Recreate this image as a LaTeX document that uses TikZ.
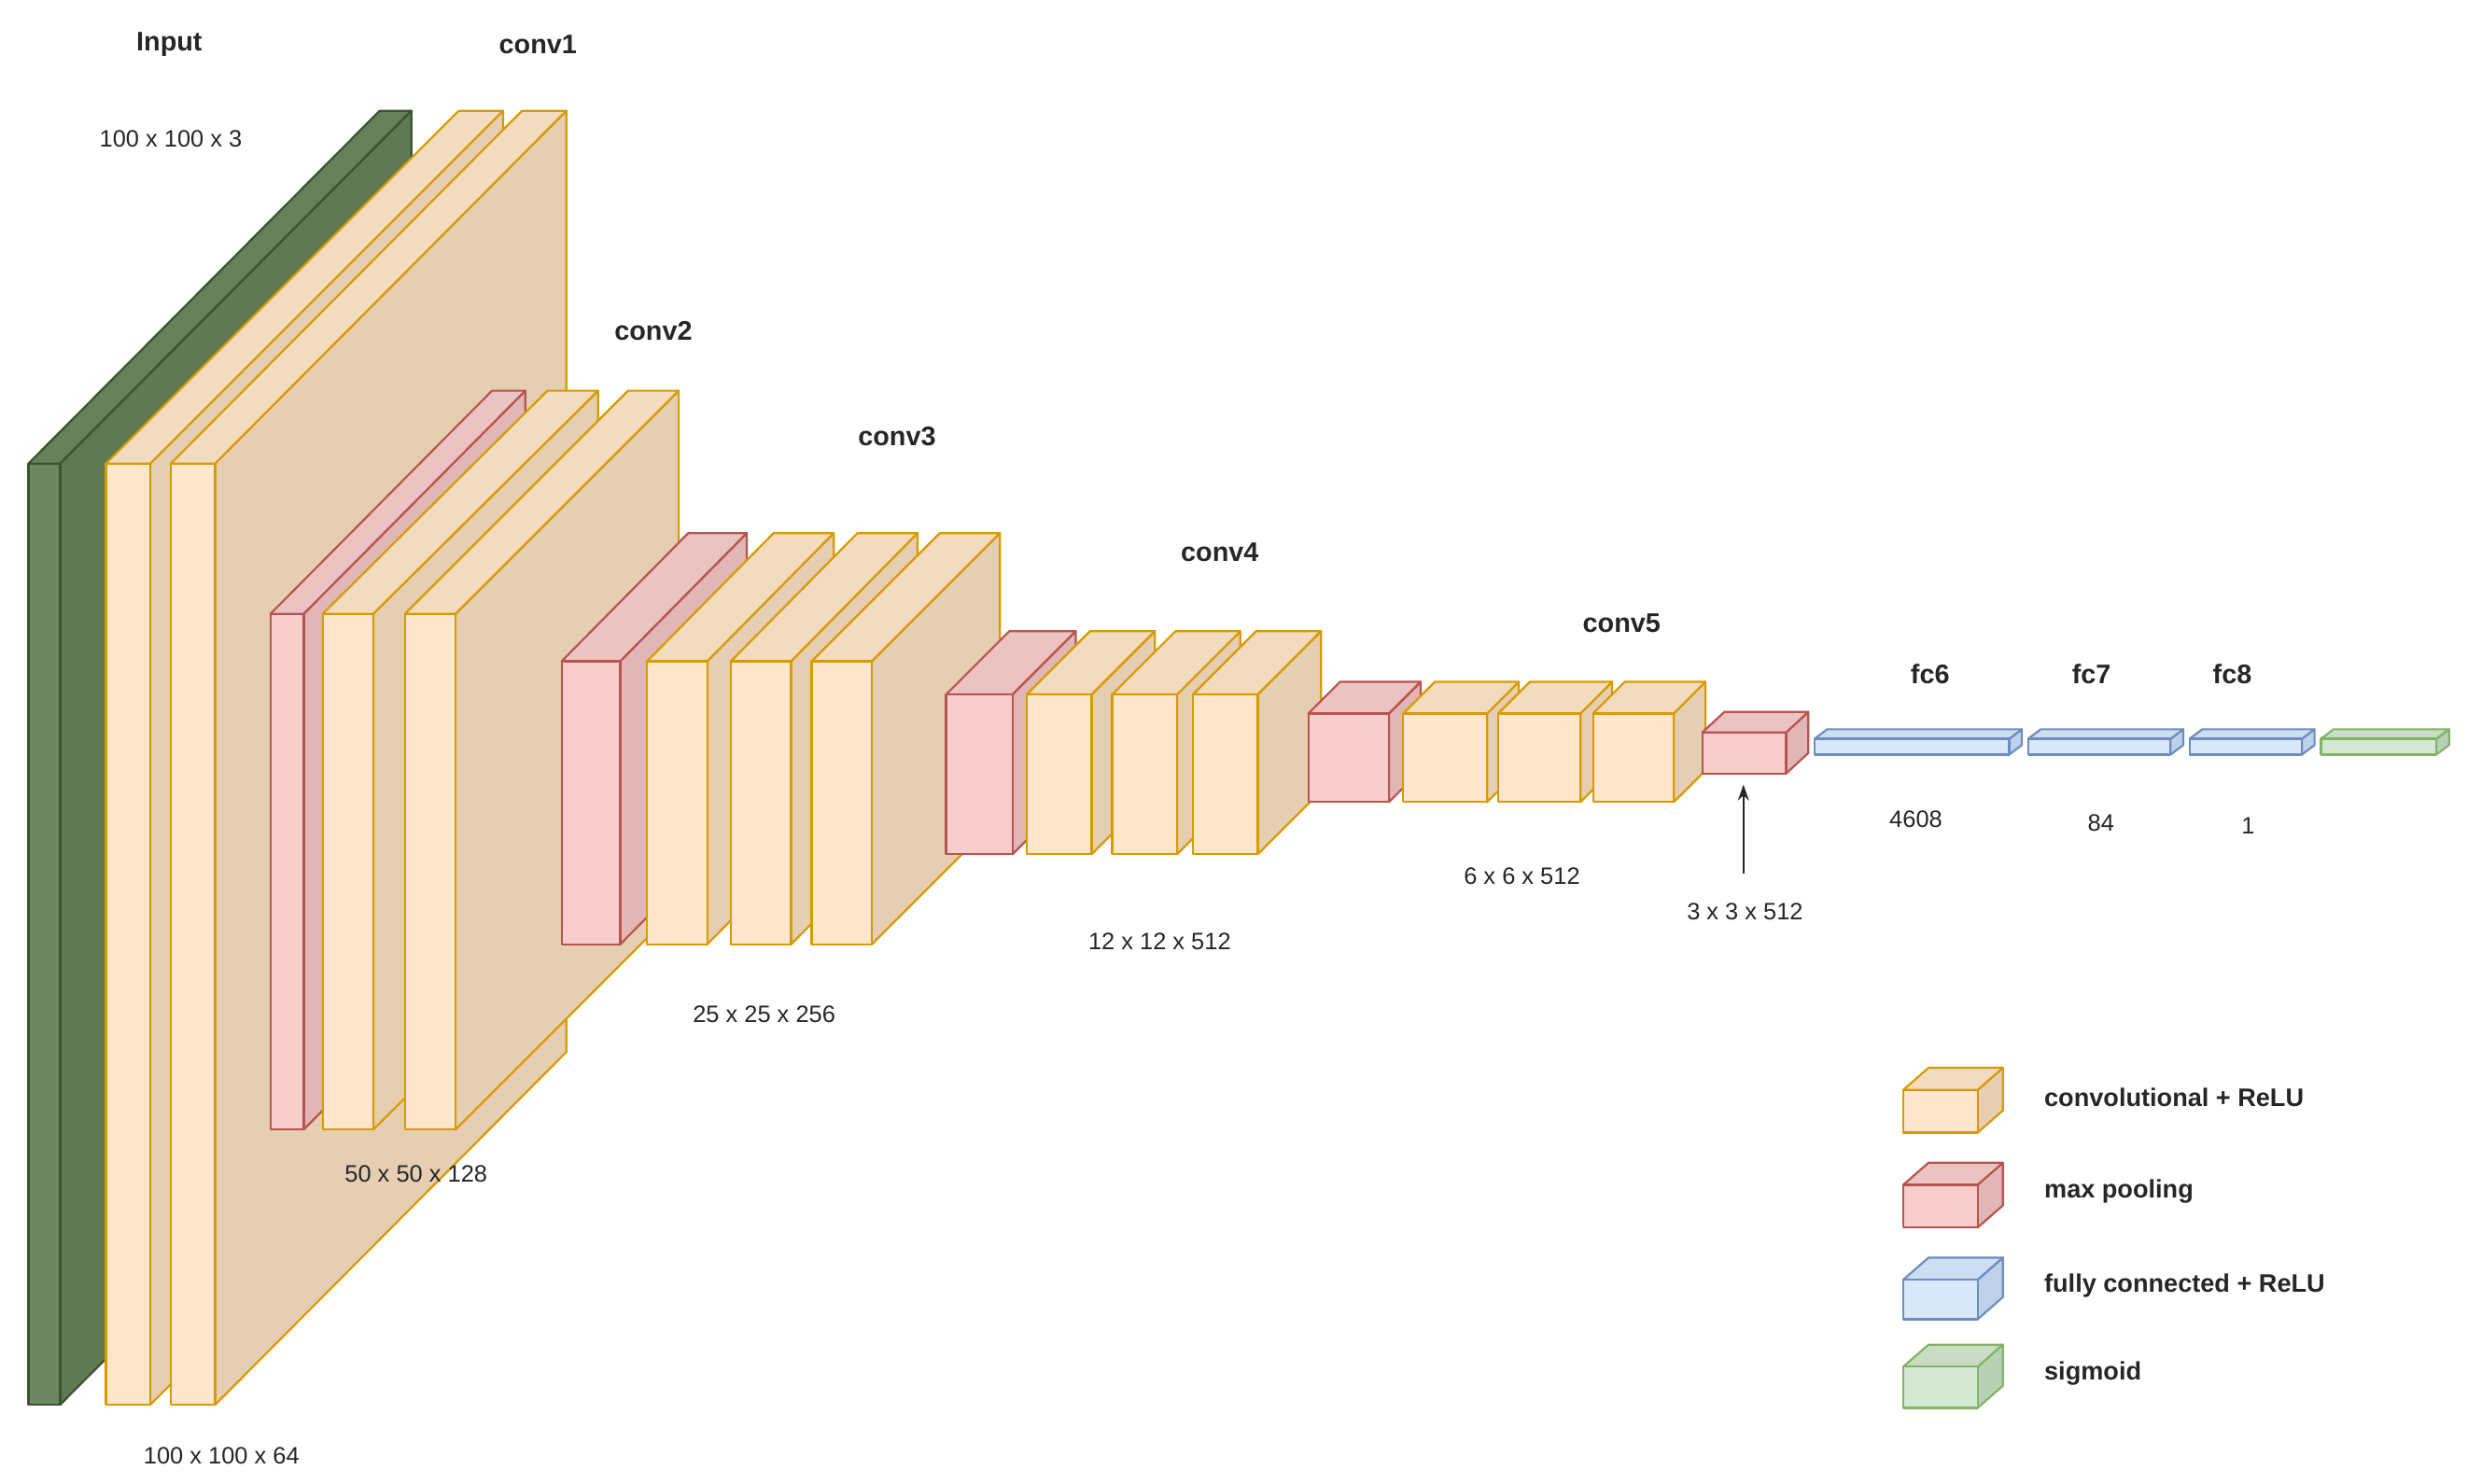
\documentclass[tikz,border=0pt]{standalone}
\usepackage{fontspec}
\setmainfont{Liberation Sans}
\usetikzlibrary{arrows.meta}
\definecolor{cF}{HTML}{FFE6CC}\definecolor{cT}{HTML}{F2DBBF}\definecolor{cS}{HTML}{E6CEB3}\definecolor{cD}{HTML}{D79B00}
\definecolor{pF}{HTML}{F8CECC}\definecolor{pT}{HTML}{EBC3C3}\definecolor{pS}{HTML}{E0B6B6}\definecolor{pD}{HTML}{B85450}
\definecolor{bF}{HTML}{DAE8FC}\definecolor{bT}{HTML}{CFDDF2}\definecolor{bS}{HTML}{BFD0EA}\definecolor{bD}{HTML}{6C8EBF}
\definecolor{gF}{HTML}{D5E8D4}\definecolor{gT}{HTML}{C8DCC6}\definecolor{gS}{HTML}{B8D1B5}\definecolor{gD}{HTML}{82B366}
\definecolor{iF}{HTML}{6D8764}\definecolor{iT}{HTML}{66805C}\definecolor{iS}{HTML}{5F7955}\definecolor{iD}{HTML}{3A5431}
\newcommand\cuboid[7]{%
\draw[#7side] (#3,#2) -- ++(#5,-#6) -- ++(0,#4-#2) -- (#3,#4) -- cycle;
\draw[#7top] (#1,#2) -- ++(#5,-#6) -- ++(#3-#1,0) -- (#3,#2) -- cycle;
\draw[#7front] (#1,#2) rectangle (#3,#4);}
\tikzset{
 cfront/.style={fill=cF,draw=cD,line width=1.3pt,line join=round},
 cside/.style={fill=cS,draw=cD,line width=1.3pt,line join=round},
 ctop/.style={fill=cT,draw=cD,line width=1.3pt,line join=round},
 pfront/.style={fill=pF,draw=pD,line width=1.3pt,line join=round},
 pside/.style={fill=pS,draw=pD,line width=1.3pt,line join=round},
 ptop/.style={fill=pT,draw=pD,line width=1.3pt,line join=round},
 bfront/.style={fill=bF,draw=bD,line width=1.3pt,line join=round},
 bside/.style={fill=bS,draw=bD,line width=1.3pt,line join=round},
 btop/.style={fill=bT,draw=bD,line width=1.3pt,line join=round},
 gfront/.style={fill=gF,draw=gD,line width=1.3pt,line join=round},
 gside/.style={fill=gS,draw=gD,line width=1.3pt,line join=round},
 gtop/.style={fill=gT,draw=gD,line width=1.3pt,line join=round},
 ifront/.style={fill=iF,draw=iD,line width=1.3pt,line join=round},
 iside/.style={fill=iS,draw=iD,line width=1.3pt,line join=round},
 itop/.style={fill=iT,draw=iD,line width=1.3pt,line join=round},
 ttl/.style={font=\fontsize{17}{20}\selectfont\bfseries,text=black!85,inner sep=0pt},
 dim/.style={font=\fontsize{15}{18}\selectfont,text=black!85,inner sep=0pt},
 leg/.style={font=\fontsize{16}{19}\selectfont\bfseries,text=black!85,inner sep=0pt,anchor=west},
}
\begin{document}
\begin{tikzpicture}[x=1pt,y=-1pt]
\useasboundingbox (0,0) rectangle (1560,938);
% input
\cuboid{18}{293}{38}{888}{222}{223}{i}
% conv1
\cuboid{67}{293}{95}{888}{223}{223}{c}
\cuboid{108}{293}{136}{888}{222}{223}{c}
% conv2
\cuboid{171}{388}{192}{714}{140}{141}{p}
\cuboid{204}{388}{236}{714}{142}{141}{c}
\cuboid{256}{388}{288}{714}{141}{141}{c}
% conv3
\cuboid{355}{418}{392}{597}{80}{81}{p}
\cuboid{409}{418}{447}{597}{80}{81}{c}
\cuboid{462}{418}{500}{597}{80}{81}{c}
\cuboid{513}{418}{551}{597}{81}{81}{c}
% conv4
\cuboid{598}{439}{640}{540}{40}{40}{p}
\cuboid{649}{439}{690}{540}{40}{40}{c}
\cuboid{703}{439}{744}{540}{40}{40}{c}
\cuboid{754}{439}{795}{540}{40}{40}{c}
% conv5
\cuboid{827}{451}{878}{507}{20}{20}{p}
\cuboid{887}{451}{940}{507}{20}{20}{c}
\cuboid{947}{451}{999}{507}{20}{20}{c}
\cuboid{1007}{451}{1058}{507}{20}{20}{c}
% pool5
\cuboid{1076}{463}{1129}{489}{14}{13}{p}
% fc
\cuboid{1147}{467}{1270}{477}{8}{6}{b}
\cuboid{1282}{467}{1372}{477}{8}{6}{b}
\cuboid{1384}{467}{1455}{477}{8}{6}{b}
\cuboid{1467}{467}{1540}{477}{8}{6}{g}
% labels
\node[ttl] (tin) at (107,28) {Input};
\node[ttl] (tc1) at (340,28) {conv1};
\node[ttl] (tc2) at (413,209) {conv2};
\node[ttl] (tc3) at (567,276) {conv3};
\node[ttl] (tc4) at (771,349) {conv4};
\node[ttl] (tc5) at (1025,394) {conv5};
\node[ttl] (tf6) at (1220,426) {fc6};
\node[ttl] (tf7) at (1322,426) {fc7};
\node[ttl] (tf8) at (1411,426) {fc8};
\node[dim] (d0) at (108,88) {100 x 100 x 3};
\node[dim] (d1) at (140,920) {100 x 100 x 64};
\node[dim] (d2) at (263,742) {50 x 50 x 128};
\node[dim] (d3) at (483,641) {25 x 25 x 256};
\node[dim] (d4) at (733,595) {12 x 12 x 512};
\node[dim] (d5) at (962,554) {6 x 6 x 512};
\node[dim] (d6) at (1103,576) {3 x 3 x 512};
\node[dim] (d7) at (1211,518) {4608};
\node[dim] (d8) at (1328,520) {84};
\node[dim] (d9) at (1421,522) {1};
\coordinate (ar0) at (1102,552);
\coordinate (ar1) at (1102,496);
\draw[-{Stealth[length=10pt,width=7pt]},line width=1.2pt,black!85] (ar0) -- (ar1);
% legend
\cuboid{1203}{689}{1250}{716}{16}{14}{c}
\cuboid{1203}{749}{1250}{776}{16}{14}{p}
\cuboid{1203}{809}{1250}{834}{16}{14}{b}
\cuboid{1203}{864}{1250}{890}{16}{14}{g}
\node[leg] (l1) at (1292,694) {convolutional + ReLU};
\node[leg] (l2) at (1292,753) {max pooling};
\node[leg] (l3) at (1292,813) {fully connected + ReLU};
\node[leg] (l4) at (1292,868) {sigmoid};
\end{tikzpicture}
\end{document}
